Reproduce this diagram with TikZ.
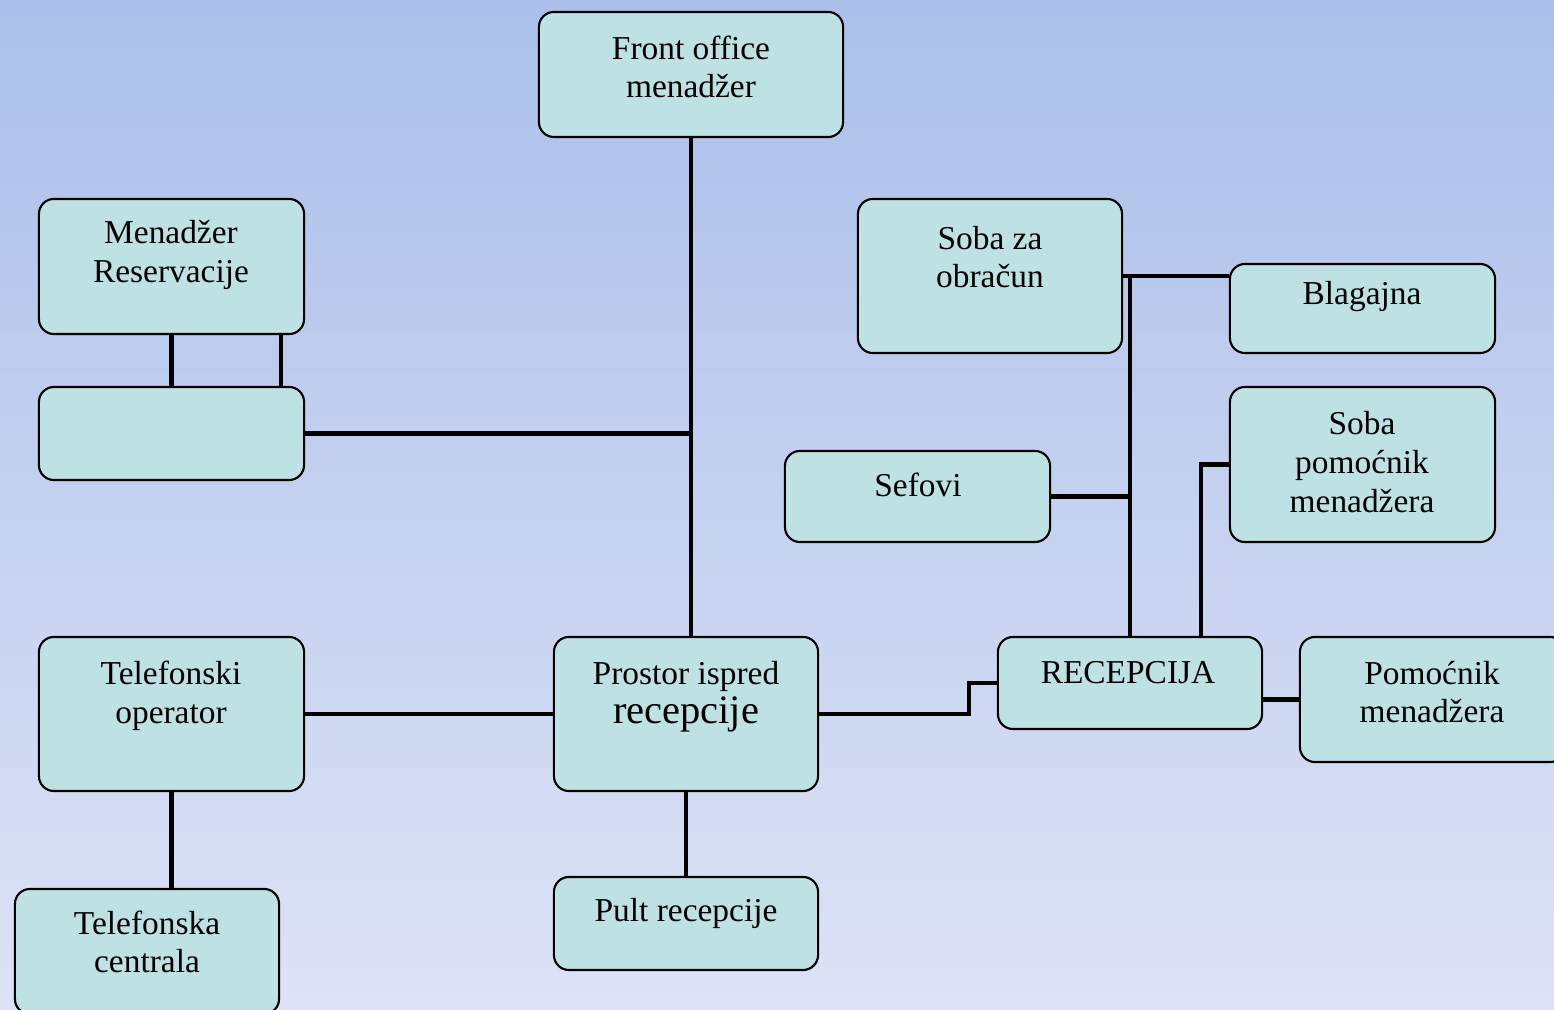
\documentclass[tikz,border=0pt]{standalone}
\usepackage{fontspec}
\setmainfont{Liberation Serif}
\usetikzlibrary{positioning}
\definecolor{bgtop}{RGB}{171,191,234}
\definecolor{bgbottom}{RGB}{221,227,245}
\definecolor{boxcyan}{RGB}{190,226,228}

\begin{document}
\begin{tikzpicture}[x=0.01cm, y=-0.01cm,
        box/.style={draw=black, line width=0.6pt, fill=boxcyan, rounded corners=0.15cm, inner sep=0pt},
        txt/.style={align=center, text=black, font=\fontsize{9.5}{11}\selectfont},
        wire/.style={draw=black, line width=1.3pt}]
      \useasboundingbox (0,0) rectangle (1554,1010);
      \shade[top color=bgtop, bottom color=bgbottom] (0,0) rectangle (1554,1010);

      % Boxes
      \node[box, minimum width=3.04cm, minimum height=1.25cm] (fom) at (691,74.5) {};
      \node[box, minimum width=2.65cm, minimum height=1.35cm] (mres) at (171.5,266.5) {};
      \node[box, minimum width=2.65cm, minimum height=0.93cm] (empty) at (171.5,433.5) {};
      \node[box, minimum width=2.64cm, minimum height=1.54cm] (obr) at (990,276) {};
      \node[box, minimum width=2.65cm, minimum height=0.89cm] (blag) at (1362.5,308.5) {};
      \node[box, minimum width=2.65cm, minimum height=1.55cm] (spm) at (1362.5,464.5) {};
      \node[box, minimum width=2.65cm, minimum height=0.91cm] (sef) at (917.5,496.5) {};
      \node[box, minimum width=2.65cm, minimum height=1.54cm] (tel) at (171.5,714) {};
      \node[box, minimum width=2.64cm, minimum height=1.54cm] (pros) at (686,714) {};
      \node[box, minimum width=2.64cm, minimum height=0.92cm] (rec) at (1130,683) {};
      \node[box, minimum width=2.65cm, minimum height=1.25cm] (pom) at (1432.5,699.5) {};
      \node[box, minimum width=2.64cm, minimum height=1.25cm] (tcen) at (147,951.5) {};
      \node[box, minimum width=2.64cm, minimum height=0.93cm] (pult) at (686,923.5) {};

      % Texts
      \node[txt] (fom-t) at (691,67) {Front office\\menadžer};
      \node[txt] (mres-t) at (171,255) {Menadžer\\Reservacije};
      \node[txt] (obr-t) at (990,257) {Soba za\\obračun};
      \node[txt] (blag-t) at (1362,297) {Blagajna};
      \node[txt] (spm-t) at (1362,462) {Soba\\pomoćnik\\menadžera};
      \node[txt] (sef-t) at (918,485) {Sefovi};
      \node[txt] (tel-t) at (171,696) {Telefonski\\operator};
      \node[txt] (pros-t) at (686,697) {Prostor ispred\\{\fontsize{11.5}{13}\selectfont recepcije}};
      \node[txt] (rec-t) at (1128,673) {RECEPCIJA};
      \node[txt] (pom-t) at (1432,692) {Pomoćnik\\menadžera};
      \node[txt] (tcen-t) at (147,942) {Telefonska\\centrala};
      \node[txt] (pult-t) at (686,913) {Pult recepcije};

      % Connectors
      \draw[wire] (fom.south) -- (fom.south |- pros.north);
      \draw[wire] (empty.east) -- (empty.east -| fom.south);
      \draw[wire] (mres.south) -- (empty.north);
      \draw[wire] ([xshift=-0.24cm]mres.south east) -- ([xshift=-0.24cm]empty.north east);
      \draw[wire] (tel.east) -- (pros.west);
      \draw[wire] (tel.south) -- (tel.south |- tcen.north);
      \draw[wire] (pros.south) -- (pult.north);
      \draw[wire] (pros.east) -- ++(150,0) |- (rec.west);
      \draw[wire] (pom.west -| rec.east) -- (pom.west);
      \draw[wire] (rec.north) -- (rec.north |- obr.east);
      \draw[wire] (obr.east) -- (obr.east -| blag.west);
      \draw[wire] (sef.east) -- (sef.east -| rec.north);
      \draw[wire] ([xshift=0.71cm]rec.north) |- (spm.west);
    \end{tikzpicture}
\end{document}
